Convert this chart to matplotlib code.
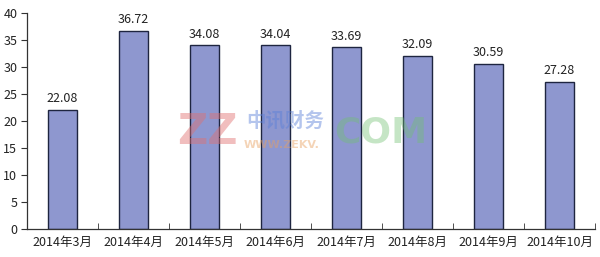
import matplotlib
matplotlib.use("Agg")
import numpy as np
import matplotlib.pyplot as plt

plt.rcParams["font.family"] = ["Noto Sans CJK SC", "DejaVu Sans"]

# ---- data ----
months = ["2014年3月", "2014年4月", "2014年5月", "2014年6月",
          "2014年7月", "2014年8月", "2014年9月", "2014年10月"]
values = [22.08, 36.72, 34.08, 34.04, 33.69, 32.09, 30.59, 27.28]
y_ticks = [0, 5, 10, 15, 20, 25, 30, 35, 40]

BAR_FACE = "#8e97cf"
BAR_EDGE = "#1e2540"
AXIS_COLOR = "#333333"


def main():
    fig = plt.figure(figsize=(6.0, 2.57), dpi=100)
    ax = fig.add_axes([27 / 600, 1 - 229 / 257, 568 / 600, 216 / 257])

    x = np.arange(len(months))
    ax.bar(x, values, width=0.4, color=BAR_FACE, edgecolor=BAR_EDGE,
           linewidth=1.0, zorder=2)

    for xi, v in zip(x, values):
        ax.text(xi, v + 0.8, f"{v:.2f}", ha="center", va="bottom",
                fontsize=9, color="#222222")

    ax.set_xlim(-0.5, len(months) - 0.5)
    ax.set_ylim(0, 40)
    ax.set_yticks(y_ticks)
    ax.set_yticklabels([str(t) for t in y_ticks], fontsize=9, color="#222222")

    ax.set_xticks(x)
    ax.set_xticklabels(months, fontsize=9, color="#222222")
    ax.tick_params(axis="x", length=0, pad=5)
    # category separators on the bottom axis, pointing up
    ax.set_xticks(np.arange(len(months) + 1) - 0.5, minor=True)
    ax.tick_params(axis="x", which="minor", direction="in", length=4,
                   color=AXIS_COLOR)
    ax.tick_params(axis="y", direction="out", length=4, color=AXIS_COLOR,
                   pad=3)

    for side in ["top", "right"]:
        ax.spines[side].set_visible(False)
    for side in ["left", "bottom"]:
        ax.spines[side].set_color(AXIS_COLOR)
        ax.spines[side].set_linewidth(0.9)

    # faint watermark in the middle of the chart
    fig.text(0.345, 0.485, "ZZ", fontsize=30, fontweight="bold",
             color="#e07070", alpha=0.45, ha="center", va="center",
             family="DejaVu Sans")
    fig.text(0.475, 0.53, "中讯财务", fontsize=14, fontweight="bold",
             color="#5a7fd8", alpha=0.45, ha="center", va="center")
    fig.text(0.47, 0.435, "WWW.ZEKV.", fontsize=8, fontweight="bold",
             color="#e8a060", alpha=0.45, ha="center", va="center",
             family="DejaVu Sans")
    fig.text(0.635, 0.485, "COM", fontsize=26, fontweight="bold",
             color="#70c070", alpha=0.4, ha="center", va="center",
             family="DejaVu Sans")

    fig.savefig("out.png", dpi=100, facecolor="white")
    plt.close(fig)


if __name__ == "__main__":
    main()
